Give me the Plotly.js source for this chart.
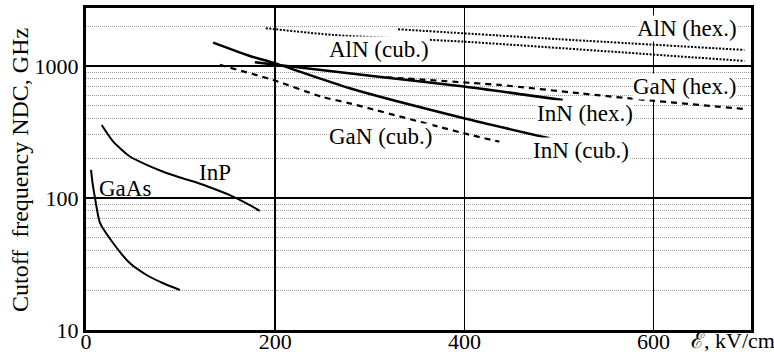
<!DOCTYPE html>
<html>
<head>
<meta charset="utf-8">
<script src="https://cdn.plot.ly/plotly-3.0.1.min.js"></script>
<style>html,body{margin:0;padding:0;background:#fff;}#chart{width:774px;height:358px;}</style>
</head>
<body>
<div id="chart"></div>
<script>
// Field strength, kV/cm, and cutoff frequency, GHz
const gaasX = [5.3, 6.9, 9.5, 14.8, 28.8, 46.5, 64.1, 81.6, 99.3];
const gaasY = [163, 130, 100, 64.7, 45.4, 32, 26.1, 22.6, 20.1];
const inpX = [16.6, 28.8, 46.5, 64.1, 81.6, 99.3, 116.9, 134.4, 152, 169.7, 183.7];
const inpY = [357, 267, 206, 178, 158, 143, 131, 118, 105, 91, 80];
const innCubX = [134.4, 173.2, 197.8, 278.8, 399.5, 490];
const innCubY = [1502, 1191, 1059, 678, 402, 283];
const innHexX = [178.5, 314, 399.5, 504];
const innHexY = [1067, 821, 700, 552];
const ganHexX = [317.5, 437, 521.6, 599, 699.4];
const ganHexY = [821, 718, 621, 546, 470];
const ganCubX = [141.5, 197.8, 248.9, 278.8, 399.5, 437];
const ganCubY = [1018, 783, 585, 521, 309, 267];
const alnCubX = [190, 261, 399.5, 696];
const alnCubY = [1932, 1718, 1528, 1091];
const alnHexX = [329.8, 499.5, 696];
const alnHexY = [1897, 1596, 1322];

const xTicks = [0, 200, 400, 600];
const xTickText = ['0', '200', '400', '600'];
const yTicks = [10, 100, 1000];
const yTickText = ['10', '100', '1000'];
const yMinor = [20, 30, 40, 50, 60, 70, 80, 90, 200, 300, 400, 500, 600, 700, 800, 900, 2000];

const labelText = ['AlN (hex.)', 'AlN (cub.)', 'GaN (hex.)', 'InN (hex.)', 'InN (cub.)', 'GaN (cub.)', 'InP', 'GaAs'];
const labelX = [635.7, 309.4, 632.5, 528, 523.8, 311.5, 136.2, 41.2];
const labelY = [1907, 1322, 705, 433, 227, 290, 155, 119];
const labelBg = ['#fff', '#fff', '#fff', '#fff', '#fff', '#fff', 'rgba(0,0,0,0)', 'rgba(0,0,0,0)'];

const serif = 'Liberation Serif';

function tr(x, y, dash, w) {
  return {x: x, y: y, mode: 'lines', type: 'scatter', hoverinfo: 'skip',
    line: {color: '#000', width: w, dash: dash, shape: 'spline', smoothing: 0.6}};
}

const data = [
  tr(gaasX, gaasY, 'solid', 2),
  tr(inpX, inpY, 'solid', 2),
  tr(innCubX, innCubY, 'solid', 2.5),
  tr(innHexX, innHexY, 'solid', 2.5),
  tr(ganHexX, ganHexY, '6px,5px', 2.2),
  tr(ganCubX, ganCubY, '6px,5px', 2.2),
  tr(alnCubX, alnCubY, '2px,1.5px', 2),
  tr(alnHexX, alnHexY, '2px,1.5px', 2)
];

const annotations = labelText.map((t, i) => ({
  x: labelX[i], y: Math.log10(labelY[i]), xref: 'x', yref: 'y', text: t, showarrow: false,
  font: {family: serif, size: 23, color: '#000'}, bgcolor: labelBg[i], borderpad: 0,
  xanchor: 'center', yanchor: 'middle'
}));
annotations.push({
  x: (20 - 86) / 665, y: 1 - (170 - 8) / 322, xref: 'paper', yref: 'paper',
  text: 'Cutoff&nbsp; frequency NDC, GHz', xanchor: 'center', yanchor: 'middle',
  showarrow: false, textangle: -90, font: {family: serif, size: 24, color: '#000'}
});
annotations.push({
  x: 637, y: -(341 - 330) / 322, xref: 'x', yref: 'paper', text: 'ℰ, kV/cm', showarrow: false,
  xanchor: 'left', yanchor: 'middle', font: {family: serif, size: 22, color: '#000'}
});

const layout = {
  width: 774, height: 358,
  margin: {l: 86, r: 23, t: 8, b: 28},
  paper_bgcolor: '#fff', plot_bgcolor: '#fff',
  showlegend: false,
  font: {family: serif, size: 22, color: '#000'},
  xaxis: {
    range: [0, 703], tickvals: xTicks, ticktext: xTickText, ticks: '',
    ticklabelstandoff: -10,
    showgrid: true, gridcolor: '#000', gridwidth: 1.5, zeroline: false,
    showline: true, linecolor: '#000', linewidth: 3, mirror: true,
    tickfont: {family: serif, size: 22, color: '#000'}
  },
  yaxis: {
    type: 'log', range: [1, 3.439], tickvals: yTicks, ticktext: yTickText, ticks: '',
    showgrid: true, gridcolor: '#000', gridwidth: 1.5, zeroline: false,
    showline: true, linecolor: '#000', linewidth: 3, mirror: true,
    tickfont: {family: serif, size: 22, color: '#000'},
    minor: {tickvals: yMinor, showgrid: true, gridcolor: '#9a9a9a', gridwidth: 1, griddash: '1px,1px', ticks: ''}
  },
  annotations: annotations
};

Plotly.newPlot('chart', data, layout, {staticPlot: true, displayModeBar: false});
</script>
</body>
</html>
